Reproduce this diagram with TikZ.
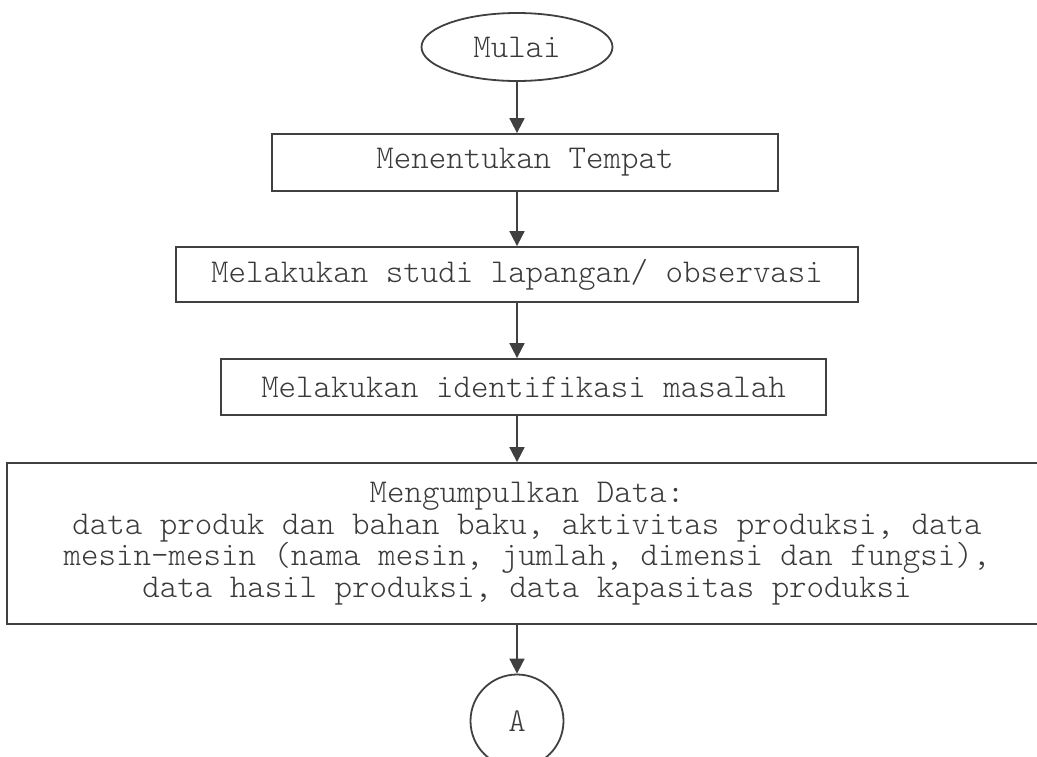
\documentclass[tikz,border=0pt]{standalone}
\usepackage{fontspec}
\setmainfont{lmmonolt10-regular.otf}
\usetikzlibrary{arrows.meta,shapes.geometric}
\definecolor{lin}{HTML}{404040}
\definecolor{txt}{HTML}{3A3A3A}
\tikzset{
  every node/.style={text=txt, font=\fontsize{33.3}{31.7}\selectfont},
  box/.style={draw=lin, line width=1.8pt, rectangle, inner sep=0pt},
  flow/.style={draw=lin, line width=1.8pt, -{Triangle[length=15pt,width=15pt]}},
}
\begin{document}
\begin{tikzpicture}[x=1pt,y=-1pt]
\useasboundingbox (0,0) rectangle (1037,756);
\node[draw=lin, line width=1.8pt, ellipse, minimum width=191pt, minimum height=68pt, inner sep=0pt] (mulai) at (517,47) {Mulai};
\node[box, minimum width=506pt, minimum height=57pt] (tempat) at (525,162.5) {Menentukan Tempat};
\node[box, minimum width=682pt, minimum height=55pt] (studi) at (517,274.5) {Melakukan studi lapangan/ observasi};
\node[box, minimum width=605pt, minimum height=56pt] (ident) at (523.5,387) {Melakukan identifikasi masalah};
\node[box, align=center, minimum width=1040pt, minimum height=161pt] (data) at (527,543.5) {Mengumpulkan Data:\\data produk dan bahan baku, aktivitas produksi, data\\mesin-mesin (nama mesin, jumlah, dimensi dan fungsi),\\data hasil produksi, data kapasitas produksi};
\node[draw=lin, line width=1.8pt, circle, minimum size=93pt, inner sep=0pt] (A) at (517,721) {A};
\draw[flow] (mulai.south) -- (mulai.south |- tempat.north);
\draw[flow] (mulai.south |- tempat.south) -- (mulai.south |- studi.north);
\draw[flow] (studi.south) -- (studi.south |- ident.north);
\draw[flow] (studi.south |- ident.south) -- (studi.south |- data.north);
\draw[flow] (A.north |- data.south) -- (A.north);
\end{tikzpicture}
\end{document}
